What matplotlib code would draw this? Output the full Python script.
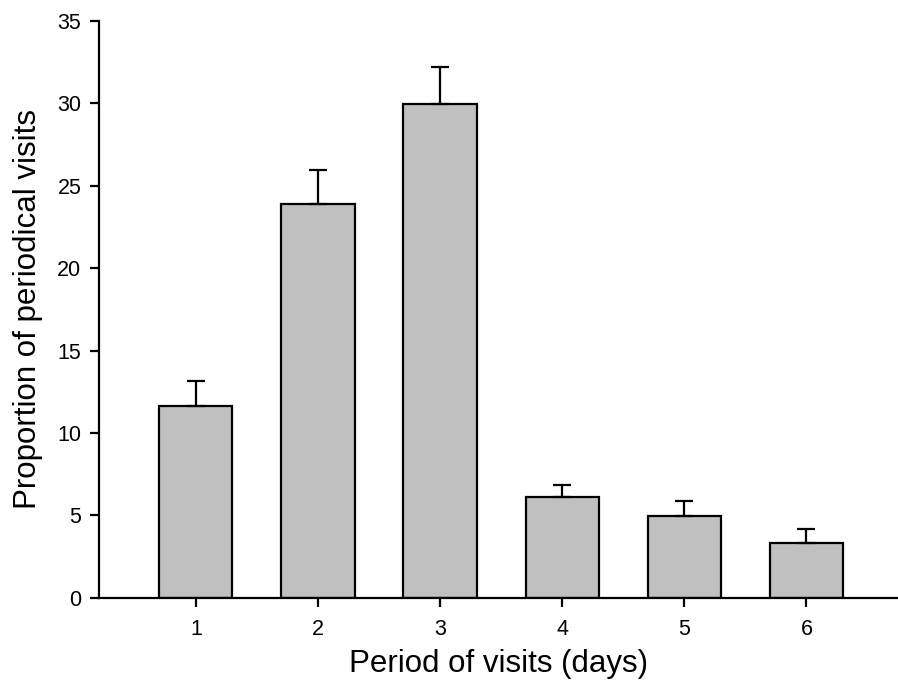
import matplotlib.pyplot as plt

plt.rcParams['font.family'] = ['Liberation Sans', 'DejaVu Sans']

dias = [1, 2, 3, 4, 5, 6]
proporcion = [11.65, 23.9, 29.97, 6.1, 4.97, 3.32]
error = [1.52, 2.05, 2.25, 0.72, 0.92, 0.85]
ticks_y = [0, 5, 10, 15, 20, 25, 30, 35]

fig = plt.figure(figsize=(8.98, 6.96), dpi=100)
ax = fig.add_axes([0.110, 0.141, 0.890, 0.829])

ax.bar(dias, proporcion, width=0.6, color='#c0c0c0', edgecolor='black', linewidth=1.6, zorder=2)
ax.errorbar(dias, proporcion, yerr=[[0] * len(error), error], fmt='none',
            ecolor='black', elinewidth=1.6, capsize=6.5, capthick=1.6, zorder=3)

ax.set_xlim(0.205, 6.75)
ax.set_ylim(0, 35)
ax.set_xticks(dias)
ax.set_yticks(ticks_y)

ax.spines['top'].set_visible(False)
ax.spines['right'].set_visible(False)
ax.spines['left'].set_linewidth(1.6)
ax.spines['bottom'].set_linewidth(1.6)
ax.tick_params(axis='both', direction='out', length=6.5, width=1.6, labelsize=15.5)
ax.tick_params(axis='x', pad=9)
ax.tick_params(axis='y', pad=6)

ax.set_xlabel('Period of visits (days)', fontsize=22.5, labelpad=6)
ax.set_ylabel('Proportion of periodical visits', fontsize=22.5, labelpad=10)

fig.savefig('out.png', dpi=100)
